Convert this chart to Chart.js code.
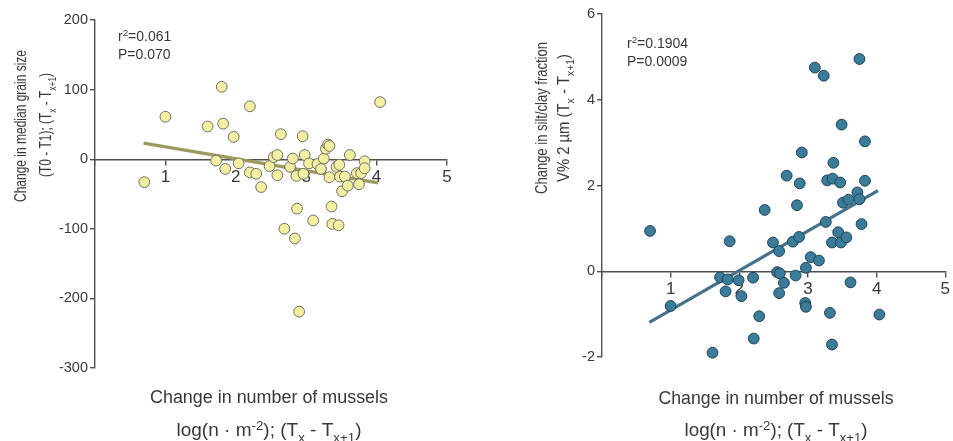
<!DOCTYPE html>
<html>
<head>
<meta charset="utf-8">
<script src="https://cdn.jsdelivr.net/npm/chart.js@4.4.1/dist/chart.umd.min.js"></script>
<style>
  html, body { margin: 0; padding: 0; background: #ffffff; }
  #wrap { position: relative; width: 953px; height: 441px; overflow: hidden; }
  #c1 { position: absolute; left: 0; top: 0; }
  #c2 { position: absolute; left: 480px; top: 0; }
</style>
</head>
<body>
<div id="wrap">
  <canvas id="c1" width="480" height="441"></canvas>
  <canvas id="c2" width="473" height="441"></canvas>
</div>
<script>
// ---- Left panel: change in median grain size vs change in number of mussels ----
const grainX = [0.70, 1.00, 1.80, 2.20, 1.60, 1.82, 1.97, 1.72, 1.85, 2.04, 2.20, 2.29, 2.36, 2.48, 2.54, 2.59, 2.59, 2.64, 2.77, 2.81, 2.86, 2.95, 2.98, 2.96, 3.04, 3.16, 3.21, 3.25, 3.28, 3.31, 3.33, 3.33, 3.43, 3.47, 3.48, 3.55, 3.51, 3.59, 3.62, 3.72, 3.75, 3.78, 3.83, 3.83, 4.05, 2.87, 2.69, 2.84, 3.10, 3.36, 3.37, 3.46, 2.90];
const grainY = [-33, 61, 104, 76, 47, 51, 32, -2, -14, -6, -19, -21, -40, -10, 3, 6, -23, 36, -11, 1, -24, 33, 6, -21, -6, -7, -14, 1, 15, 21, 19, -26, -11, -8, -25, -25, -46, -38, 6, -20, -36, -20, -3, -13, 82, -71, -100, -114, -88, -68, -93, -95, -219];
const grainFitX = [0.69, 4.02];
const grainFitY = [23, -34];
const grainTicksY = [-300, -200, -100, 0, 100, 200];

// ---- Right panel: change in silt/clay fraction vs change in number of mussels ----
const siltX = [0.70, 1.00, 1.61, 1.72, 1.80, 1.83, 1.86, 1.99, 2.03, 2.20, 2.21, 2.29, 2.37, 2.49, 2.55, 2.59, 2.58, 2.58, 2.65, 2.69, 2.78, 2.82, 2.84, 2.88, 2.87, 2.91, 2.96, 2.97, 2.97, 3.04, 3.10, 3.16, 3.23, 3.26, 3.28, 3.32, 3.35, 3.35, 3.36, 3.37, 3.44, 3.47, 3.48, 3.49, 3.51, 3.56, 3.59, 3.62, 3.72, 3.75, 3.75, 3.78, 3.83, 3.83, 4.04];
const siltY = [0.94, -0.81, -1.90, -0.14, -0.47, -0.19, 0.70, -0.21, -0.58, -0.15, -1.57, -1.05, 1.43, 0.67, -0.02, -0.05, 0.47, -0.51, -0.27, 2.23, 0.69, -0.10, 1.54, 2.05, 0.80, 2.77, -0.74, -0.83, 0.08, 0.33, 4.75, 0.25, 4.56, 1.15, 2.12, -0.97, -1.71, 0.67, 2.16, 2.53, 0.91, 2.07, 0.67, 3.42, 1.60, 0.79, 1.67, -0.26, 1.84, 4.95, 1.68, 1.10, 3.03, 2.11, -1.01];
const siltFitX = [0.69, 4.02];
const siltFitY = [-1.19, 1.88];
const siltTicksY = [-2, 0, 2, 4, 6];

const mussTicksX = [0, 1, 2, 3, 4, 5];

const FONT = "'Liberation Sans', Arial, sans-serif";
const TXT = '#383838';
const AX = '#505050';

function pts(xs, ys) { return xs.map((x, i) => ({ x: x, y: ys[i] })); }

// rich text: segments [{t, s}] s: 0 normal, -1 subscript, 1 superscript
function drawRich(ctx, segs, x, y, size, o) {
  o = o || {};
  ctx.save();
  ctx.fillStyle = o.color || TXT;
  ctx.textBaseline = 'alphabetic';
  ctx.textAlign = 'left';
  const fontFor = s => (s.s ? size * 0.7 : size) + 'px ' + FONT;
  let total = 0;
  const widths = segs.map(s => { ctx.font = fontFor(s); const w = ctx.measureText(s.t).width; total += w; return w; });
  const sx = o.width ? o.width / total : 1;
  ctx.translate(x, y);
  if (o.rotate) ctx.rotate(-Math.PI / 2);
  ctx.scale(sx, 1);
  let cx = o.align === 'left' ? 0 : -total / 2;
  const base = size * 0.36;
  segs.forEach((s, i) => {
    ctx.font = fontFor(s);
    let dy = base;
    if (s.s === -1) dy += size * 0.28;
    if (s.s === 1) dy -= size * 0.38;
    ctx.fillText(s.t, cx, dy);
    cx += widths[i];
  });
  ctx.restore();
}

const N = t => ({ t: t, s: 0 });
const SUB = t => ({ t: t, s: -1 });
const SUP = t => ({ t: t, s: 1 });

const xTitle1 = [N('Change in number of mussels')];
const xTitle2 = [N('log(n \u00b7 m'), SUP('-2'), N('); (T'), SUB('x'), N(' - T'), SUB('x+1'), N(')')];

function textPlugin(items) {
  return {
    id: 'richText',
    afterDraw(chart) {
      const ctx = chart.ctx;
      items.forEach(it => drawRich(ctx, it.segs, it.x, it.y, it.size, it.o));
    }
  };
}

function makeChart(id, cfg) {
  return new Chart(document.getElementById(id), {
    data: {
      datasets: [
        {
          type: 'scatter',
          data: pts(cfg.xs, cfg.ys),
          backgroundColor: cfg.fill,
          borderColor: cfg.stroke,
          borderWidth: 1,
          pointRadius: 5.4,
          pointHoverRadius: 5.4,
          order: 1
        },
        {
          type: 'line',
          data: pts(cfg.fx, cfg.fy),
          borderColor: cfg.lineColor,
          borderWidth: 3.2,
          pointRadius: 0,
          fill: false,
          order: 2
        }
      ]
    },
    options: {
      responsive: false,
      animation: false,
      clip: false,
      events: [],
      layout: { padding: cfg.pad },
      plugins: { legend: { display: false }, tooltip: { enabled: false } },
      scales: {
        x: {
          type: 'linear',
          position: { y: 0 },
          min: 0, max: 5,
          afterFit: s => { s.height = 0; },
          afterBuildTicks: s => { s.ticks = mussTicksX.map(v => ({ value: v })); },
          ticks: {
            callback: v => (v === 0 ? '' : String(v)),
            color: TXT,
            font: { family: FONT, size: 17 },
            padding: 3,
            maxRotation: 0
          },
          grid: { drawOnChartArea: false, drawTicks: true, tickLength: 5, color: AX, lineWidth: 1.4 },
          border: { display: true, color: AX, width: 1.4 }
        },
        y: {
          type: 'linear',
          position: 'left',
          min: cfg.ymin, max: cfg.ymax,
          afterFit: s => { s.width = cfg.yw; },
          afterBuildTicks: s => { s.ticks = cfg.yt.map(v => ({ value: v })); },
          ticks: {
            color: TXT,
            font: { family: FONT, size: 14.5 },
            padding: 2
          },
          grid: { drawOnChartArea: false, drawTicks: true, tickLength: 5, color: AX, lineWidth: 1.4 },
          border: { display: true, color: AX, width: 1.4 }
        }
      }
    },
    plugins: [textPlugin(cfg.texts)]
  });
}

makeChart('c1', {
  xs: grainX, ys: grainY, fx: grainFitX, fy: grainFitY,
  fill: '#f4efa2', stroke: '#707062', lineColor: '#9c9a5c',
  ymin: -300, ymax: 200, yt: grainTicksY, yw: 95,
  pad: { left: 0, right: 33, top: 20, bottom: 73 },
  texts: [
    { segs: [N('Change in median grain size')], x: 20, y: 126, size: 16.5, o: { rotate: true, width: 152 } },
    { segs: [N('(T0 - T1); (T'), SUB('x'), N(' - T'), SUB('x+1'), N(')')], x: 45, y: 125, size: 16.5, o: { rotate: true, width: 104 } },
    { segs: xTitle1, x: 269, y: 397, size: 18, o: { width: 238 } },
    { segs: xTitle2, x: 269, y: 430, size: 18, o: { width: 185 } },
    { segs: [N('r'), SUP('2'), N('=0.061')], x: 118, y: 36, size: 14, o: { align: 'left' } },
    { segs: [N('P=0.070')], x: 118, y: 54, size: 14, o: { align: 'left' } }
  ]
});

makeChart('c2', {
  xs: siltX, ys: siltY, fx: siltFitX, fy: siltFitY,
  fill: '#3c7c9b', stroke: '#1f4253', lineColor: '#45728a',
  ymin: -2, ymax: 6, yt: siltTicksY, yw: 122,
  pad: { left: 0, right: 4, top: 14, bottom: 84 },
  texts: [
    { segs: [N('Change in silt/clay fraction')], x: 61, y: 118, size: 16.5, o: { rotate: true, width: 152 } },
    { segs: [N('V% 2 \u00b5m (T'), SUB('x'), N(' - T'), SUB('x+1'), N(')')], x: 83, y: 118, size: 16.5, o: { rotate: true, width: 128 } },
    { segs: xTitle1, x: 296, y: 398, size: 18, o: { width: 235 } },
    { segs: xTitle2, x: 296, y: 430, size: 18, o: { width: 183 } },
    { segs: [N('r'), SUP('2'), N('=0.1904')], x: 147, y: 43, size: 14, o: { align: 'left' } },
    { segs: [N('P=0.0009')], x: 147, y: 61, size: 14, o: { align: 'left' } }
  ]
});
</script>
</body>
</html>
